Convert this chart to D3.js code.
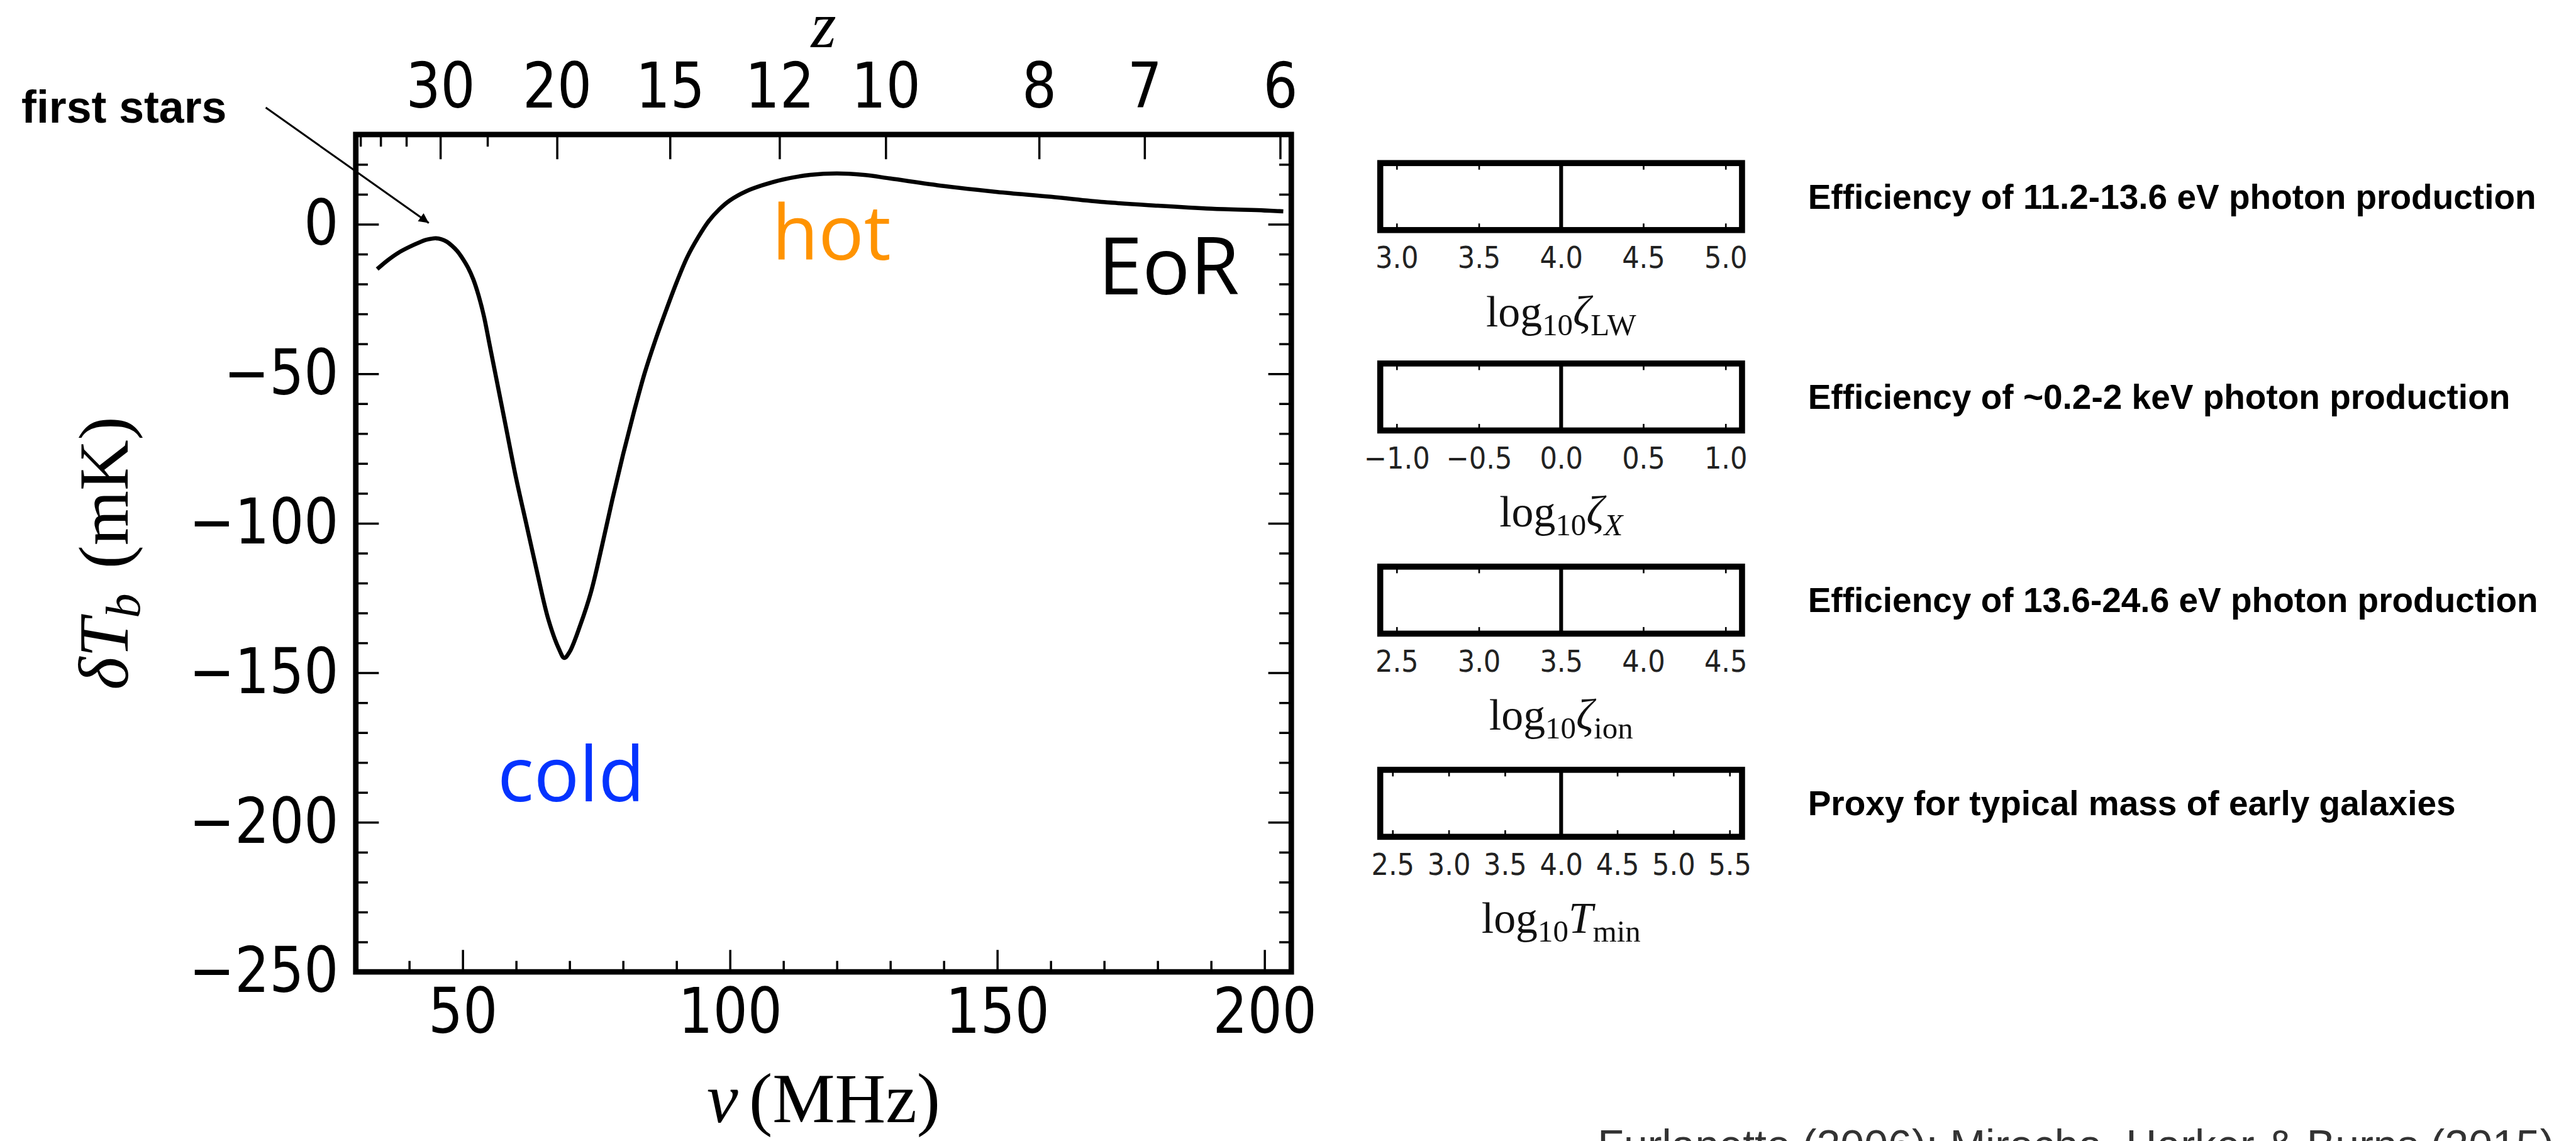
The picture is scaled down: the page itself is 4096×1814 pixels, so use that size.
<!DOCTYPE html>
<html><head><meta charset="utf-8">
<script src="https://cdn.jsdelivr.net/npm/d3@7"></script>
<style>html,body{margin:0;padding:0;background:#fff;overflow:hidden}</style>
</head><body>
<svg id="chart" width="4096" height="1814" viewBox="0 0 4692 2078"></svg>
<script>
// ---------- data ----------
const nuMHz = [34, 36, 38, 40, 42, 43, 44, 45, 46, 47, 48, 49, 50, 51, 52, 53, 54, 55, 56, 58, 60, 62, 64, 66, 68, 69, 70, 72, 74, 76, 78, 80, 82, 84, 86, 88, 90, 92, 94, 96, 98, 100, 103, 106, 110, 115, 120, 125, 130, 140, 150, 160, 170, 180, 190, 200, 203.5];
const dTb   = [-15, -12, -9.5, -7.6, -6, -5.3, -4.9, -4.7, -5, -5.8, -7.2, -9, -11.5, -14.5, -18.5, -24, -31, -40, -49, -67, -85, -101, -117, -132, -142, -145, -143, -134, -123, -108, -92, -77, -63, -50, -39, -29, -19.5, -11, -4.5, 1, 5, 8, 11, 13, 15, 16.5, 17, 16.5, 15.3, 12.8, 10.8, 9.2, 7.4, 6.2, 5.2, 4.6, 4.3];
const nuDomain = [30, 205];
const dTbDomain = [-250, 30];
const xTickValues = [50, 100, 150, 200];
const yTickValues = [0, -50, -100, -150, -200, -250];
const zTickValues = [30, 20, 15, 12, 10, 8, 7, 6];
const zTickLabels = ["30", "20", "15", "12", "10", "8", "7", "6"];
const zMinorValues = [45, 40, 35, 25];

const panelDomains = [[2.9, 5.1], [-1.1, 1.1], [2.4, 4.6], [2.39, 5.61]];
const panelTicks = [[3.0, 3.5, 4.0, 4.5, 5.0], [-1.0, -0.5, 0.0, 0.5, 1.0], [2.5, 3.0, 3.5, 4.0, 4.5], [2.5, 3.0, 3.5, 4.0, 4.5, 5.0, 5.5]];
const panelFiducial = [4.0, 0.0, 3.5, 4.0];
const panelSymbols = ["ζ", "ζ", "ζ", "T"];
const panelSubscripts = ["LW", "X", "ion", "min"];
const panelSubItalic = [false, true, false, false];
const panelDescriptions = [
  "Efficiency of 11.2-13.6 eV photon production",
  "Efficiency of ~0.2-2 keV photon production",
  "Efficiency of 13.6-24.6 eV photon production",
  "Proxy for typical mass of early galaxies"
];
const citation = "Furlanetto (2006); Mirocha, Harker & Burns (2015)";

// ---------- layout ----------
const svg = d3.select("#chart");
const M = {left: 648, right: 2352, top: 245, bottom: 1770};
const x = d3.scaleLinear().domain(nuDomain).range([M.left, M.right]);
const y = d3.scaleLinear().domain(dTbDomain).range([M.bottom, M.top]);
const zToNu = z => 1420.4 / (1 + z);
const tickFont = "'DejaVu Sans', sans-serif";
const serif = "'Liberation Serif', 'DejaVu Serif', serif";
const sq = "scale(0.87,1)";

function styleAxis(g, fs, tw) {
  g.select(".domain").remove();
  g.selectAll(".tick line").attr("stroke", "#000").attr("stroke-width", tw);
  g.selectAll(".tick text").attr("font-family", tickFont).attr("font-size", fs)
    .attr("fill", "#000").attr("transform", sq);
}

// curve
const line = d3.line().x(d => x(d[0])).y(d => y(d[1])).curve(d3.curveCatmullRom.alpha(0.5));
svg.append("path").datum(nuMHz.map((v, i) => [v, dTb[i]]))
  .attr("d", line).attr("fill", "none").attr("stroke", "#000").attr("stroke-width", 7.5);

// minor ticks
const yMinor = d3.range(-240, 30, 10).filter(v => v % 50 !== 0);
const xMinor = d3.range(40, 205, 10).filter(v => v % 50 !== 0);
svg.append("g").attr("transform", `translate(${M.left},0)`)
  .call(d3.axisLeft(y).tickValues(yMinor).tickSizeInner(-22).tickSizeOuter(0).tickFormat(""))
  .call(g => styleAxis(g, 114, 4));
svg.append("g").attr("transform", `translate(${M.right},0)`)
  .call(d3.axisRight(y).tickValues(yMinor).tickSizeInner(-22).tickSizeOuter(0).tickFormat(""))
  .call(g => styleAxis(g, 114, 4));
svg.append("g").attr("transform", `translate(0,${M.bottom})`)
  .call(d3.axisBottom(x).tickValues(xMinor).tickSizeInner(-20).tickSizeOuter(0).tickFormat(""))
  .call(g => styleAxis(g, 114, 4));
svg.append("g").attr("transform", `translate(0,${M.top})`)
  .call(d3.axisTop(x).tickValues(zMinorValues.map(zToNu)).tickSizeInner(-22).tickSizeOuter(0).tickFormat(""))
  .call(g => styleAxis(g, 114, 4));

// major axes
svg.append("g").attr("transform", `translate(${M.left},0)`)
  .call(d3.axisLeft(y).tickValues(yTickValues).tickSizeInner(-42).tickSizeOuter(0).tickPadding(36).tickFormat(d3.format("d")))
  .call(g => styleAxis(g, 114, 4));
svg.append("g").attr("transform", `translate(${M.right},0)`)
  .call(d3.axisRight(y).tickValues(yTickValues).tickSizeInner(-42).tickSizeOuter(0).tickFormat(""))
  .call(g => styleAxis(g, 114, 4));
svg.append("g").attr("transform", `translate(0,${M.bottom})`)
  .call(d3.axisBottom(x).tickValues(xTickValues).tickSizeInner(-40).tickSizeOuter(0).tickPadding(30).tickFormat(d3.format("d")))
  .call(g => styleAxis(g, 114, 4));
svg.append("g").attr("transform", `translate(0,${M.top})`)
  .call(d3.axisTop(x).tickValues(zTickValues.map(zToNu)).tickSizeInner(-45).tickSizeOuter(0).tickPadding(49)
    .tickFormat((d, i) => zTickLabels[i]))
  .call(g => styleAxis(g, 114, 4));

// frame
svg.append("rect").attr("x", M.left).attr("y", M.top)
  .attr("width", M.right - M.left).attr("height", M.bottom - M.top)
  .attr("fill", "none").attr("stroke", "#000").attr("stroke-width", 10);

// axis titles
svg.append("text").attr("x", (M.left + M.right) / 2).attr("y", 86)
  .attr("text-anchor", "middle").attr("font-family", serif).attr("font-style", "italic")
  .attr("font-size", 118).text("z");
const xl = svg.append("text").attr("x", (M.left + M.right) / 2).attr("y", 2044)
  .attr("text-anchor", "middle").attr("font-family", serif).attr("font-size", 128);
xl.append("tspan").attr("font-style", "italic").text("ν");
xl.append("tspan").attr("dx", 20).text("(MHz)");
const yl = svg.append("text").attr("transform", `translate(232,${(M.top + M.bottom) / 2}) rotate(-90)`)
  .attr("text-anchor", "middle").attr("font-family", serif).attr("font-size", 128);
yl.append("tspan").attr("font-style", "italic").text("δT");
yl.append("tspan").attr("font-style", "italic").attr("font-size", 90).attr("dy", 22).text("b");
yl.append("tspan").attr("dy", -22).attr("dx", 45).text("(mK)");

// annotations
svg.append("defs").append("marker").attr("id", "ah").attr("viewBox", "0 0 10 10")
  .attr("refX", 10).attr("refY", 5).attr("markerWidth", 30).attr("markerHeight", 18)
  .attr("markerUnits", "userSpaceOnUse").attr("orient", "auto")
  .append("path").attr("d", "M0,0 L10,5 L0,10 z").attr("fill", "#000");
svg.append("line").attr("x1", 484).attr("y1", 196).attr("x2", 781).attr("y2", 406)
  .attr("stroke", "#000").attr("stroke-width", 3.5).attr("marker-end", "url(#ah)");
svg.append("text").attr("x", 39).attr("y", 223).attr("font-family", "'Liberation Sans', Arial, sans-serif")
  .attr("font-weight", "bold").attr("font-size", 82).text("first stars");
svg.append("text").attr("x", 1406).attr("y", 473).attr("font-family", "'Open Sans', sans-serif")
  .attr("font-size", 138).attr("fill", "#FF9300").text("hot");
svg.append("text").attr("x", 2000).attr("y", 536).attr("font-family", "'Open Sans', sans-serif")
  .attr("font-size", 145).attr("fill", "#000").text("EoR");
svg.append("text").attr("x", 906).attr("y", 1459).attr("font-family", "'Open Sans', sans-serif")
  .attr("font-size", 138).attr("fill", "#0433FF").text("cold");

// ---------- parameter panels ----------
const P = {left: 2514, right: 3173, h: 122, tops: [297, 662, 1032, 1402]};
panelDomains.forEach((dom, i) => {
  const top = P.tops[i], bot = top + P.h;
  const px = d3.scaleLinear().domain(dom).range([P.left, P.right]);
  const g = svg.append("g");
  g.append("g").attr("transform", `translate(0,${bot})`)
    .call(d3.axisBottom(px).tickValues(panelTicks[i]).tickSizeInner(-12).tickSizeOuter(0).tickPadding(30).tickFormat(d3.format(".1f")))
    .call(a => { styleAxis(a, 55, 3); a.selectAll(".tick text").attr("fill", "#222").attr("transform", "scale(0.9,1)"); });
  g.append("g").attr("transform", `translate(0,${top})`)
    .call(d3.axisTop(px).tickValues(panelTicks[i]).tickSizeInner(-12).tickSizeOuter(0).tickFormat(""))
    .call(a => styleAxis(a, 55, 3));
  g.append("line").attr("x1", px(panelFiducial[i])).attr("x2", px(panelFiducial[i]))
    .attr("y1", top).attr("y2", bot).attr("stroke", "#000").attr("stroke-width", 7);
  g.append("rect").attr("x", P.left).attr("y", top).attr("width", P.right - P.left).attr("height", P.h)
    .attr("fill", "none").attr("stroke", "#000").attr("stroke-width", 11);
  const t = g.append("text").attr("x", (P.left + P.right) / 2).attr("y", bot + 175)
    .attr("text-anchor", "middle").attr("font-family", serif).attr("font-size", 80).attr("fill", "#111");
  t.append("tspan").text("log");
  t.append("tspan").attr("font-size", 56).attr("dy", 16).text("10");
  t.append("tspan").attr("font-style", "italic").attr("dy", -16).text(panelSymbols[i]);
  t.append("tspan").attr("font-size", 56).attr("dy", 16)
    .attr("font-style", panelSubItalic[i] ? "italic" : "normal").text(panelSubscripts[i]);
  svg.append("text").attr("x", 3293).attr("y", (top + bot) / 2 + 22)
    .attr("font-family", "'Liberation Sans', Arial, sans-serif").attr("font-weight", "bold")
    .attr("font-size", 63).attr("fill", "#000").text(panelDescriptions[i]);
});

svg.append("text").attr("x", 2910).attr("y", 2112).attr("font-family", "'Liberation Sans', Arial, sans-serif")
  .attr("font-size", 78).attr("fill", "#333").text(citation);
</script>
</body></html>
